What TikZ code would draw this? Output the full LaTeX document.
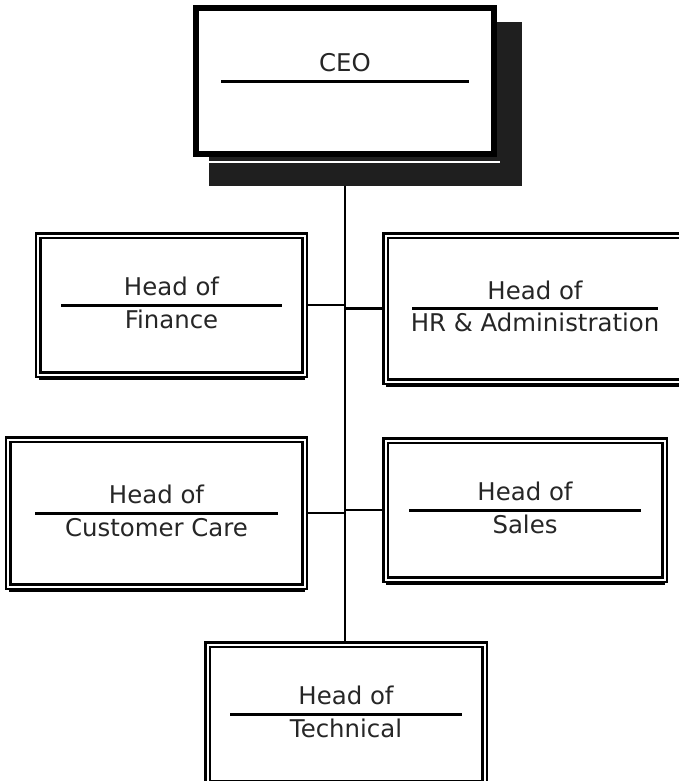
\documentclass[tikz,border=0pt]{standalone}
\usepackage{fontspec}
\setmainfont{DejaVu Sans}
\usetikzlibrary{shadows}

\pgfdeclarelayer{background}
\pgfsetlayers{background,main}

\tikzset{
  post/.style={draw, fill=white, line width=2.6bp, double=white, double distance=2bp,
    inner sep=0pt, drop shadow={shadow xshift=0.5bp, shadow yshift=-5.5bp, opacity=1, fill=black}},
  boss/.style={draw, fill=white, line width=6.5bp, inner sep=0pt},
  rolebar/.style={line width=3bp},
  title/.style={anchor=base, inner sep=0pt, text=black!85, font=\fontsize{24.5}{29}\selectfont},
  link/.style={line width=2.4bp}
}

\begin{document}
\begin{tikzpicture}[x=1bp, y=-1bp]
  \path[use as bounding box, clip] (0,0) rectangle (679,781);

  % the boxes
  \node[boss, minimum width=298bp, minimum height=146bp] (ceo) at (345,81) {};
  \node[post, minimum width=266bp, minimum height=139bp] (fin) at (171.5,305) {};
  \node[post, minimum width=299bp, minimum height=146bp] (hr) at (535,308.5) {};
  \node[post, minimum width=296bp, minimum height=147bp] (cc) at (156.5,513) {};
  \node[post, minimum width=279bp, minimum height=139bp] (sales) at (525,510) {};
  \node[post, minimum width=277bp, minimum height=139bp] (tech) at (346,714) {};

  % titles
  \draw[rolebar] ([xshift=-124bp]ceo.center) -- ([xshift=124bp]ceo.center);
  \node[title] (ceo-head) at ([yshift=9.5bp]ceo.center) {CEO};
  \foreach \n/\w/\dept in {fin/110/Finance, hr/123/{HR \& Administration},
      cc/121/{Customer Care}, sales/116/Sales, tech/116/Technical} {
    \draw[rolebar] ([xshift=-\w bp]\n.center) -- ([xshift=\w bp]\n.center);
    \node[title] (\n-head) at ([yshift=9.5bp]\n.center) {Head of};
    \node[title] (\n-name) at ([yshift=-23bp]\n.center) {\dept};
  }

  \begin{pgfonlayer}{background}
    % lines
    \draw[link, line width=2.8bp] (ceo.south) -- (ceo.south |- tech.north);
    \draw[link] (fin.east) -- (fin.east -| ceo.south);
    \draw[link] (hr.west) -- (hr.west -| ceo.south);
    \draw[link] (cc.east) -- (cc.east -| ceo.south);
    \draw[link] (sales.west) -- (sales.west -| ceo.south);
    % shadow under the CEO box
    \fill[black!88] ([xshift=16bp,yshift=-17bp]ceo.north west)
      rectangle ([xshift=25bp,yshift=-29bp]ceo.south east);
    \draw[white, line width=2.5bp] ([xshift=-3bp,yshift=-4.5bp]ceo.south west)
      -- ([xshift=3bp,yshift=-4.5bp]ceo.south east);
  \end{pgfonlayer}
\end{tikzpicture}
\end{document}
